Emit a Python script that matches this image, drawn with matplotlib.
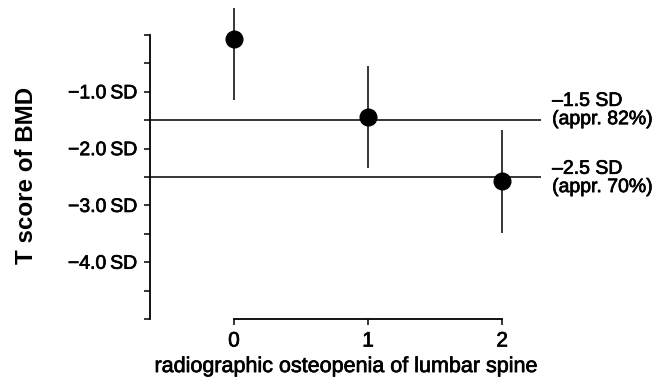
import matplotlib
matplotlib.use("Agg")
import matplotlib.pyplot as plt
import matplotlib.patheffects as pe

plt.rcParams['font.family'] = ['Liberation Sans', 'DejaVu Sans']

categories = [0, 1, 2]
means = [-0.07, -1.44, -2.57]
err_up = [0.55, 0.90, 0.90]
err_down = [1.07, 0.90, 0.92]
thresholds = [-1.5, -2.5]
threshold_labels = ["\u20131.5 SD\n(appr. 82%)", "\u20132.5 SD\n(appr. 70%)"]
ytick_vals = [-1.0, -2.0, -3.0, -4.0]
ytick_labels = ["\u22121.0\u2009SD", "\u22122.0\u2009SD", "\u22123.0\u2009SD", "\u22124.0\u2009SD"]

heavy = [pe.withStroke(linewidth=0.5, foreground='black')]

fig = plt.figure(figsize=(6.66, 3.78), dpi=100)
ax = fig.add_axes([150/666, 1-319/378, (541-150)/666, 318/378])

ax.set_xlim(-0.627, 2.29)
ax.set_ylim(-5.0, 0.6)

for t in thresholds:
    ax.axhline(t, color='black', lw=1.1, zorder=1)

ax.errorbar(categories, means, yerr=[err_down, err_up], fmt='o', color='black',
            ms=12, elinewidth=1.1, capsize=0, zorder=3)

label_offsets = [7.0, -1.0]  # points, vertical shift of the annotation block
for t, lab, off in zip(thresholds, threshold_labels, label_offsets):
    ax.annotate(lab, xy=(1.0, t), xycoords=ax.get_yaxis_transform(),
                xytext=(8, off), textcoords='offset points', ha='left', va='center',
                fontsize=14, linespacing=1.1, annotation_clip=False,
                path_effects=heavy)

for s in ['top', 'right']:
    ax.spines[s].set_visible(False)
ax.spines['left'].set_bounds(-5, 0)
ax.spines['bottom'].set_bounds(0, 2)
ax.spines['left'].set_linewidth(1.3)
ax.spines['bottom'].set_linewidth(1.3)

all_ticks = [-5, -4.5, -4, -3.5, -3, -2.5, -2, -1.5, -1, -0.5, 0]
ax.set_yticks(all_ticks)
lab_map = dict(zip(ytick_vals, ytick_labels))
ax.set_yticklabels([lab_map.get(v, "") for v in all_ticks])
ax.set_xticks(categories)
ax.set_xticklabels([str(c) for c in categories])
ax.tick_params(axis='y', length=4, width=1.1, labelsize=14, pad=5)
ax.tick_params(axis='x', length=4, width=1.1, labelsize=15, pad=5)
for lbl in ax.get_yticklabels() + ax.get_xticklabels():
    lbl.set_path_effects(heavy)

ax.set_ylabel("T score of BMD", fontsize=17.4, fontweight='bold')
ax.yaxis.set_label_coords(-0.286, 0.453)
ax.set_xlabel("radiographic osteopenia of lumbar spine", fontsize=15.5, labelpad=4,
              path_effects=heavy)

fig.savefig("out.png", dpi=100)
